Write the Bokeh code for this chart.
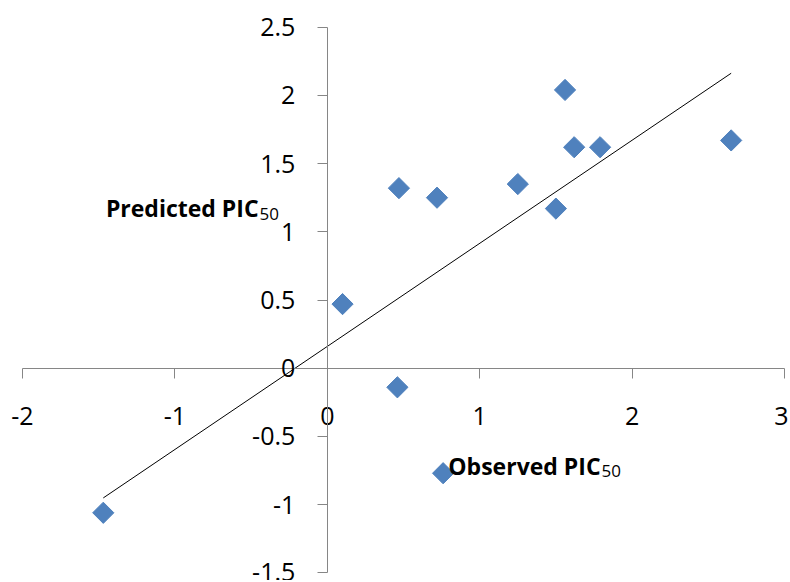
import numpy as np
from bokeh.plotting import figure
from bokeh.models import LinearAxis, FixedTicker, Label
from bokeh.embed import file_html
from bokeh.resources import INLINE

# Data
observed = [-1.47, 0.10, 0.46, 0.47, 0.72, 0.76, 1.25, 1.50, 1.56, 1.62, 1.79, 2.65]
predicted = [-1.06, 0.47, -0.14, 1.32, 1.25, -0.77, 1.35, 1.17, 2.04, 1.62, 1.62, 1.67]

x_ticks = [-2, -1, 0, 1, 2, 3]
x_tick_labels = ["-2", "-1", "0", "1", "2", "3"]
y_ticks = [-1.5, -1, -0.5, 0, 0.5, 1, 1.5, 2, 2.5]
y_tick_labels = ["-1.5", "-1", "-0.5", "0", "0.5", "1", "1.5", "2", "2.5"]

x_title = "Observed PIC"
y_title = "Predicted PIC"
title_sub = "50"

FONT = "Open Sans"
AXIS_COLOR = "#868686"
MARKER_COLOR = "#4F81BD"

# Layout: the frame fills the canvas; the axes are drawn through the origin
W, H = 788, 580
X0_PX, X_SCALE = 22.0, 152.4      # pixel of x=-2, pixels per x unit
Y0_PX, Y_SCALE = 26.7, 136.4      # pixel of y=2.5 (from top), pixels per y unit
x_start = x_ticks[0] - X0_PX / X_SCALE
x_end = x_ticks[0] + (W - X0_PX) / X_SCALE
y_end = y_ticks[-1] + Y0_PX / Y_SCALE
y_start = y_ticks[-1] - (H - Y0_PX) / Y_SCALE

p = figure(width=W, height=H, x_range=(x_start, x_end), y_range=(y_start, y_end),
           x_axis_location=None, y_axis_location=None,
           toolbar_location=None, output_backend="svg", min_border=0)
p.grid.visible = False
p.outline_line_color = None
p.background_fill_color = "white"
p.border_fill_color = "white"

xaxis = LinearAxis(fixed_location=0, ticker=FixedTicker(ticks=x_ticks),
                   bounds=(x_ticks[0], x_ticks[-1]))
xaxis.major_label_overrides = {float(t): s for t, s in zip(x_ticks, x_tick_labels)}
yaxis = LinearAxis(fixed_location=0, ticker=FixedTicker(ticks=y_ticks),
                   bounds=(y_ticks[0], y_ticks[-1]))
yaxis.major_label_overrides = {float(t): s for t, s in zip(y_ticks, y_tick_labels)}

for ax in (xaxis, yaxis):
    ax.axis_line_color = AXIS_COLOR
    ax.axis_line_width = 1
    ax.major_tick_line_color = AXIS_COLOR
    ax.major_tick_in = 0
    ax.major_tick_out = 10
    ax.minor_tick_line_color = None
    ax.major_label_text_font = FONT
    ax.major_label_text_font_size = "25px"
    ax.major_label_text_color = "#000000"

xaxis.major_label_standoff = 29
yaxis.major_label_standoff = 22

p.add_layout(xaxis, "below")
p.add_layout(yaxis, "left")

# Data points
p.scatter(observed, predicted, marker="square", angle=np.pi / 4, size=15,
          fill_color=MARKER_COLOR, line_color=MARKER_COLOR)

# Linear trend line fitted to the data, spanning the observed range
slope, intercept = np.polyfit(observed, predicted, 1)
tx = [min(observed), max(observed)]
ty = [slope * v + intercept for v in tx]
p.line(tx, ty, line_color="#000000", line_width=1)

# Axis titles with subscript
def add_title(text, x, y, ysub):
    p.add_layout(Label(x=x, y=y, text=text, text_font=FONT, text_font_size="23px",
                       text_font_style="bold", text_align="right",
                       text_baseline="alphabetic", text_color="#000000"))
    p.add_layout(Label(x=x, y=ysub, text=title_sub, text_font=FONT, text_font_size="17px",
                       text_align="left", text_baseline="alphabetic",
                       text_color="#000000", x_offset=1))

add_title(y_title, -0.451, 1.172, 1.128)
add_title(x_title, 1.793, -0.716, -0.753)

open("out.html", "w").write(file_html(p, INLINE))
